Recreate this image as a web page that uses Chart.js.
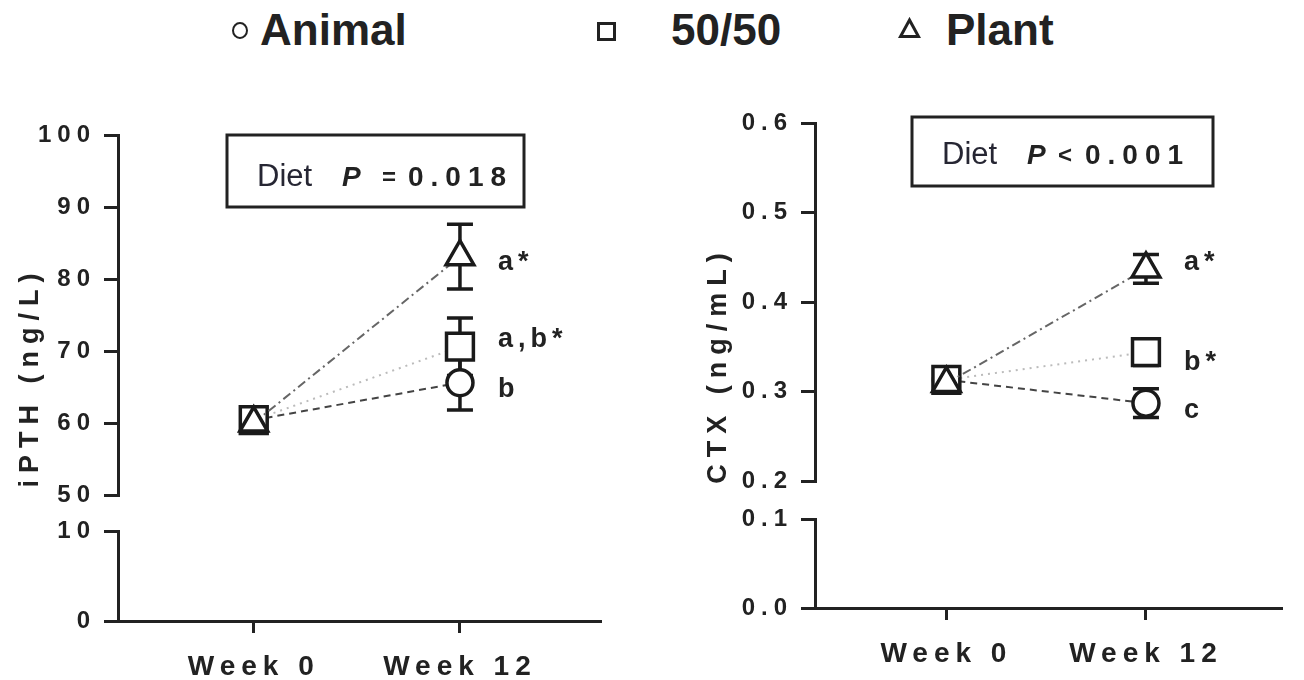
<!DOCTYPE html>
<html>
<head>
<meta charset="utf-8">
<script src="https://cdn.jsdelivr.net/npm/chart.js@4.4.0/dist/chart.umd.min.js"></script>
<style>
    html, body { margin: 0; padding: 0; background: #fff; }
    body { width: 1304px; height: 680px; position: relative; overflow: hidden;
           font-family: 'Liberation Sans', Arial, sans-serif; color: #222; }
    .item { position: absolute; top: 8px; font-weight: bold; font-size: 44px; line-height: 44px; white-space: nowrap; }
    .sym { position: absolute; box-sizing: border-box; }
    canvas { position: absolute; top: 0; }
</style>
</head>
<body>
<div id="legend">
    <span class="sym" style="left:232px; top:22px; width:16px; height:17px; border:2.5px solid #222; border-radius:50%;"></span>
    <span class="item" style="left:260px;">Animal</span>
    <span class="sym" style="left:597px; top:22px; width:19px; height:19px; border:3px solid #222;"></span>
    <span class="item" style="left:671px;">50/50</span>
    <svg class="sym" style="left:898px; top:17px;" width="23" height="22"><polygon points="11.5,3 20.5,19.5 2.5,19.5" fill="none" stroke="#222" stroke-width="3"/></svg>
    <span class="item" style="left:946px;">Plant</span>
</div>
<canvas id="pthChart" width="650" height="680" style="left:0;"></canvas>
<canvas id="ctxChart" width="654" height="680" style="left:650px;"></canvas>
<script>
// shared x axis
const weeks = [0, 12];
const weekLabels = ['Week 0', 'Week 12'];
const groupNames = ['Animal', '50/50', 'Plant'];

// iPTH (ng/L): mean and SEM
const pthAnimal = [60.4, 65.6];
const pthMixed = [60.4, 70.6];
const pthPlant = [60.0, 83.1];
const pthAnimalSem = [0.8, 3.8];
const pthMixedSem = [0.8, 4.0];
const pthPlantSem = [0.8, 4.5];
const pthLetters = ['b', 'a,b*', 'a*'];
const pthTicksTop = [50, 60, 70, 80, 90, 100];
const pthTicksBottom = [0, 10];
const pthStat = ['Diet', 'P', '=', '0.018'];

// CTX (ng/mL): mean and SEM
const ctxAnimal = [0.313, 0.287];
const ctxMixed = [0.313, 0.344];
const ctxPlant = [0.309, 0.437];
const ctxAnimalSem = [0.007, 0.016];
const ctxMixedSem = [0.007, 0.015];
const ctxPlantSem = [0.007, 0.016];
const ctxLetters = ['c', 'b*', 'a*'];
const ctxTicksTop = [0.2, 0.3, 0.4, 0.5, 0.6];
const ctxTicksBottom = [0.0, 0.1];
const ctxStat = ['Diet', 'P', '<', '0.001'];

const FAMILY = "'Liberation Sans', Arial, sans-serif";
const INK = '#222';
Chart.defaults.font.family = FAMILY;
Chart.defaults.color = INK;

// line + marker look per group
const seriesStyles = [
    { pointStyle: 'circle', pointRadius: 13, borderColor: '#444', borderDash: [7, 5], order: 3 },
    { pointStyle: 'rect', pointRadius: 19, borderColor: '#bbb', borderDash: [2, 5], order: 2 },
    { pointStyle: 'triangle', pointRadius: 16, borderColor: '#666', borderDash: [9, 4, 2, 4], order: 1 },
];

const makeDatasets = (series) => series.map((values, i) => ({
    label: groupNames[i],
    data: weeks.map((w, j) => ({ x: w, y: values[j] })),
    yAxisID: 'yTop',
    borderWidth: 2,
    pointBorderColor: '#1a1a1a',
    pointBackgroundColor: '#fff',
    pointBorderWidth: 3.5,
    pointHoverRadius: seriesStyles[i].pointRadius,
    ...seriesStyles[i],
}));

// canvas letter spacing for the tick labels
const spacing = {
    id: 'spacing',
    beforeDraw(chart) {
        chart.ctx.letterSpacing = '6px';
    },
};

const makeErrorBars = (means, sems) => ({
    id: 'errorBars',
    beforeDatasetsDraw(chart) {
        const { ctx } = chart;
        const xs = chart.scales.x;
        const ys = chart.scales.yTop;
        ctx.save();
        ctx.strokeStyle = '#1a1a1a';
        ctx.lineWidth = 3.5;
        means.forEach((values, i) => {
            values.forEach((m, j) => {
                const px = xs.getPixelForValue(weeks[j]);
                const hi = ys.getPixelForValue(m + sems[i][j]);
                const lo = ys.getPixelForValue(m - sems[i][j]);
                ctx.beginPath();
                ctx.moveTo(px, hi);
                ctx.lineTo(px, lo);
                ctx.moveTo(px - 13, hi);
                ctx.lineTo(px + 13, hi);
                ctx.moveTo(px - 13, lo);
                ctx.lineTo(px + 13, lo);
                ctx.stroke();
            });
        });
        ctx.restore();
    },
});

// axis title, group letters and the stats box
const makeNotes = (cfg) => ({
    id: 'notes',
    afterDraw(chart) {
        const { ctx } = chart;
        const xs = chart.scales.x;
        const ys = chart.scales.yTop;
        ctx.save();
        ctx.fillStyle = INK;

        ctx.save();
        ctx.translate(cfg.titleX, cfg.titleY);
        ctx.rotate(-Math.PI / 2);
        ctx.font = `bold 27px ${FAMILY}`;
        ctx.letterSpacing = '7px';
        ctx.textAlign = 'center';
        ctx.textBaseline = 'middle';
        ctx.fillText(cfg.title, 0, 0);
        ctx.restore();

        ctx.font = `bold 27px ${FAMILY}`;
        ctx.letterSpacing = '5px';
        ctx.textAlign = 'left';
        ctx.textBaseline = 'middle';
        cfg.letters.forEach((txt, i) => {
            const px = xs.getPixelForValue(weeks[1]) + 38;
            const py = ys.getPixelForValue(cfg.means[i][1]) + cfg.nudge[i];
            ctx.fillText(txt, px, py);
        });

        const b = cfg.box;
        ctx.strokeStyle = INK;
        ctx.lineWidth = 3;
        ctx.strokeRect(b.x, b.y, b.w, b.h);
        ctx.textBaseline = 'alphabetic';
        ctx.letterSpacing = '0px';
        ctx.fillStyle = '#262633';
        ctx.font = `31px ${FAMILY}`;
        ctx.fillText(cfg.stat[0], b.x + b.at[0], b.base);
        ctx.fillStyle = INK;
        ctx.font = `italic bold 28px ${FAMILY}`;
        ctx.fillText(cfg.stat[1], b.x + b.at[1], b.base);
        ctx.font = `bold 24px ${FAMILY}`;
        ctx.fillText(cfg.stat[2], b.x + b.at[2], b.base - 1);
        ctx.font = `bold 28px ${FAMILY}`;
        ctx.letterSpacing = '7px';
        ctx.fillText(cfg.stat[3], b.x + b.at[3], b.base);
        ctx.restore();
    },
});

const tickFont = { family: FAMILY, size: 24, weight: 'bold' };
const axisLook = {
    grid: { drawOnChartArea: false, drawTicks: true, tickLength: 14, tickWidth: 3, lineWidth: 3, tickColor: INK },
    border: { color: INK, width: 3 },
};

const buildChart = (canvasId, cfg) => new Chart(document.getElementById(canvasId), {
    type: 'line',
    data: { datasets: makeDatasets(cfg.series) },
    options: {
        responsive: false,
        animation: false,
        devicePixelRatio: 1,
        layout: { padding: cfg.padding },
        plugins: { legend: { display: false }, tooltip: { enabled: false } },
        scales: {
            x: {
                type: 'linear',
                position: 'bottom',
                min: -7.9,
                max: 20.15,
                afterBuildTicks: (s) => { s.ticks = weeks.map((v) => ({ value: v })); },
                afterFit: (s) => { s.height = cfg.xHeight; },
                ticks: {
                    callback: (v, i) => weekLabels[i],
                    font: { family: FAMILY, size: 28, weight: 'bold' },
                    color: INK,
                    padding: 17,
                    maxRotation: 0,
                    autoSkip: false,
                },
                grid: { ...axisLook.grid, tickLength: 12 },
                border: axisLook.border,
            },
            yTop: {
                type: 'linear',
                axis: 'y',
                position: 'left',
                stack: 'left',
                stackWeight: cfg.weights[0],
                weight: 3,
                min: cfg.topTicks[0],
                max: cfg.topTicks[cfg.topTicks.length - 1],
                afterBuildTicks: (s) => { s.ticks = cfg.topTicks.map((v) => ({ value: v })); },
                afterFit: (s) => { s.width = cfg.yWidth; },
                ticks: { callback: cfg.fmt, font: tickFont, color: INK, padding: 8 },
                ...axisLook,
            },
            yGap: {
                type: 'linear',
                axis: 'y',
                position: 'left',
                stack: 'left',
                stackWeight: cfg.weights[1],
                weight: 2,
                min: 0,
                max: 1,
                afterFit: (s) => { s.width = cfg.yWidth; },
                ticks: { display: false },
                grid: { display: false },
                border: { display: false },
            },
            yBot: {
                type: 'linear',
                axis: 'y',
                position: 'left',
                stack: 'left',
                stackWeight: cfg.weights[2],
                weight: 1,
                min: cfg.bottomTicks[0],
                max: cfg.bottomTicks[cfg.bottomTicks.length - 1],
                afterBuildTicks: (s) => { s.ticks = cfg.bottomTicks.map((v) => ({ value: v })); },
                afterFit: (s) => { s.width = cfg.yWidth; },
                ticks: { callback: cfg.fmt, font: tickFont, color: INK, padding: 8 },
                ...axisLook,
            },
        },
    },
    plugins: [spacing, makeErrorBars(cfg.series, cfg.sems), makeNotes(cfg)],
});

window.onload = () => {
    buildChart('pthChart', {
        series: [pthAnimal, pthMixed, pthPlant],
        sems: [pthAnimalSem, pthMixedSem, pthPlantSem],
        means: [pthAnimal, pthMixed, pthPlant],
        topTicks: pthTicksTop,
        bottomTicks: pthTicksBottom,
        fmt: (v) => String(Math.round(v)),
        letters: pthLetters,
        nudge: [7, -7, 6],
        stat: pthStat,
        title: 'iPTH (ng/L)',
        titleX: 31,
        titleY: 377,
        box: { x: 227, y: 135, w: 297, h: 72, base: 186, at: [30, 115, 155, 181] },
        padding: { top: 135, right: 50, bottom: 0, left: 0 },
        weights: [360, 36, 90],
        yWidth: 118,
        xHeight: 59,
    });

    buildChart('ctxChart', {
        series: [ctxAnimal, ctxMixed, ctxPlant],
        sems: [ctxAnimalSem, ctxMixedSem, ctxPlantSem],
        means: [ctxAnimal, ctxMixed, ctxPlant],
        topTicks: ctxTicksTop,
        bottomTicks: ctxTicksBottom,
        fmt: (v) => v.toFixed(1),
        letters: ctxLetters,
        nudge: [7, 10, -6],
        stat: ctxStat,
        title: 'CTX (ng/mL)',
        titleX: 69,
        titleY: 365,
        box: { x: 262, y: 117, w: 301, h: 69, base: 164, at: [30, 115, 146, 173] },
        padding: { top: 123, right: 9, bottom: 0, left: 0 },
        weights: [358, 38, 89],
        yWidth: 165,
        xHeight: 72,
    });
};
</script>
</body>
</html>
